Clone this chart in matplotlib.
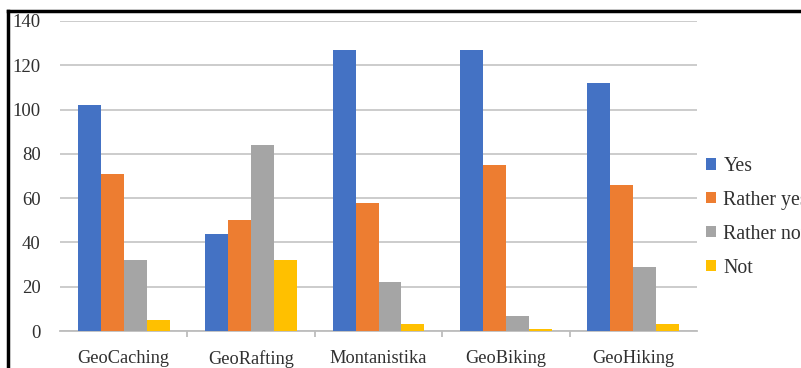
import numpy as np
import matplotlib.pyplot as plt
from matplotlib.lines import Line2D
from matplotlib.patches import Patch

categories = ['GeoCaching', 'GeoRafting', 'Montanistika', 'GeoBiking', 'GeoHiking']
series_names = ['Yes', 'Rather yes', 'Rather not', 'Not']
yes = [102, 44, 127, 127, 112]
rather_yes = [71, 50, 58, 75, 66]
rather_not = [32, 84, 22, 7, 29]
not_ = [5, 32, 3, 1, 3]
colors = ['#4472C4', '#ED7D31', '#A5A5A5', '#FFC000']

plt.rcParams['font.family'] = ['Liberation Serif', 'DejaVu Serif']

fig = plt.figure(figsize=(8.01, 3.68), dpi=100)
ax = fig.add_axes([0.0749, 0.1005, 0.7953, 0.8425])

x = np.arange(len(categories))
w = 0.18
for i, (vals, c) in enumerate(zip([yes, rather_yes, rather_not, not_], colors)):
    ax.bar(x + (i - 1.5) * w, vals, width=w, color=c, zorder=3)

ax.set_xlim(-0.5, len(categories) - 0.5)
ax.set_ylim(0, 140)
ax.set_yticks(range(0, 141, 20))
ax.grid(axis='y', color='#C8C8C8', linewidth=1.3, zorder=0)
for s in ['left', 'right', 'top']:
    ax.spines[s].set_visible(False)
ax.spines['bottom'].set_color('#BDBDBD')
ax.spines['bottom'].set_linewidth(1.3)

ax.set_xticks(x)
ax.set_xticklabels(categories, color='#303030')
ax.set_xticks(np.arange(0.5, len(categories) - 0.5, 1), minor=True)
ax.tick_params(axis='x', which='major', length=0, pad=14, labelsize=13.2)
ax.tick_params(axis='x', which='minor', length=4, color='#BDBDBD', width=1.3)
ax.tick_params(axis='y', length=0, pad=14, labelsize=13.5, labelcolor='#303030')

handles = [Patch(facecolor=c, edgecolor='none') for c in colors]
fig.legend(handles, series_names, loc='upper left', bbox_to_anchor=(0.872, 0.595),
           frameon=False, fontsize=14.3, handlelength=0.5, handleheight=0.5,
           handletextpad=0.35, labelspacing=0.75, borderaxespad=0,
           labelcolor='#303030')

# border lines on the left and top edges
fig.add_artist(Line2D([0.0106, 0.0106], [0, 0.97], color='black', linewidth=2.5,
                      transform=fig.transFigure))
fig.add_artist(Line2D([0.0106, 1.0], [0.97, 0.97], color='black', linewidth=2.5,
                      transform=fig.transFigure))

fig.savefig('out.png', dpi=100)
